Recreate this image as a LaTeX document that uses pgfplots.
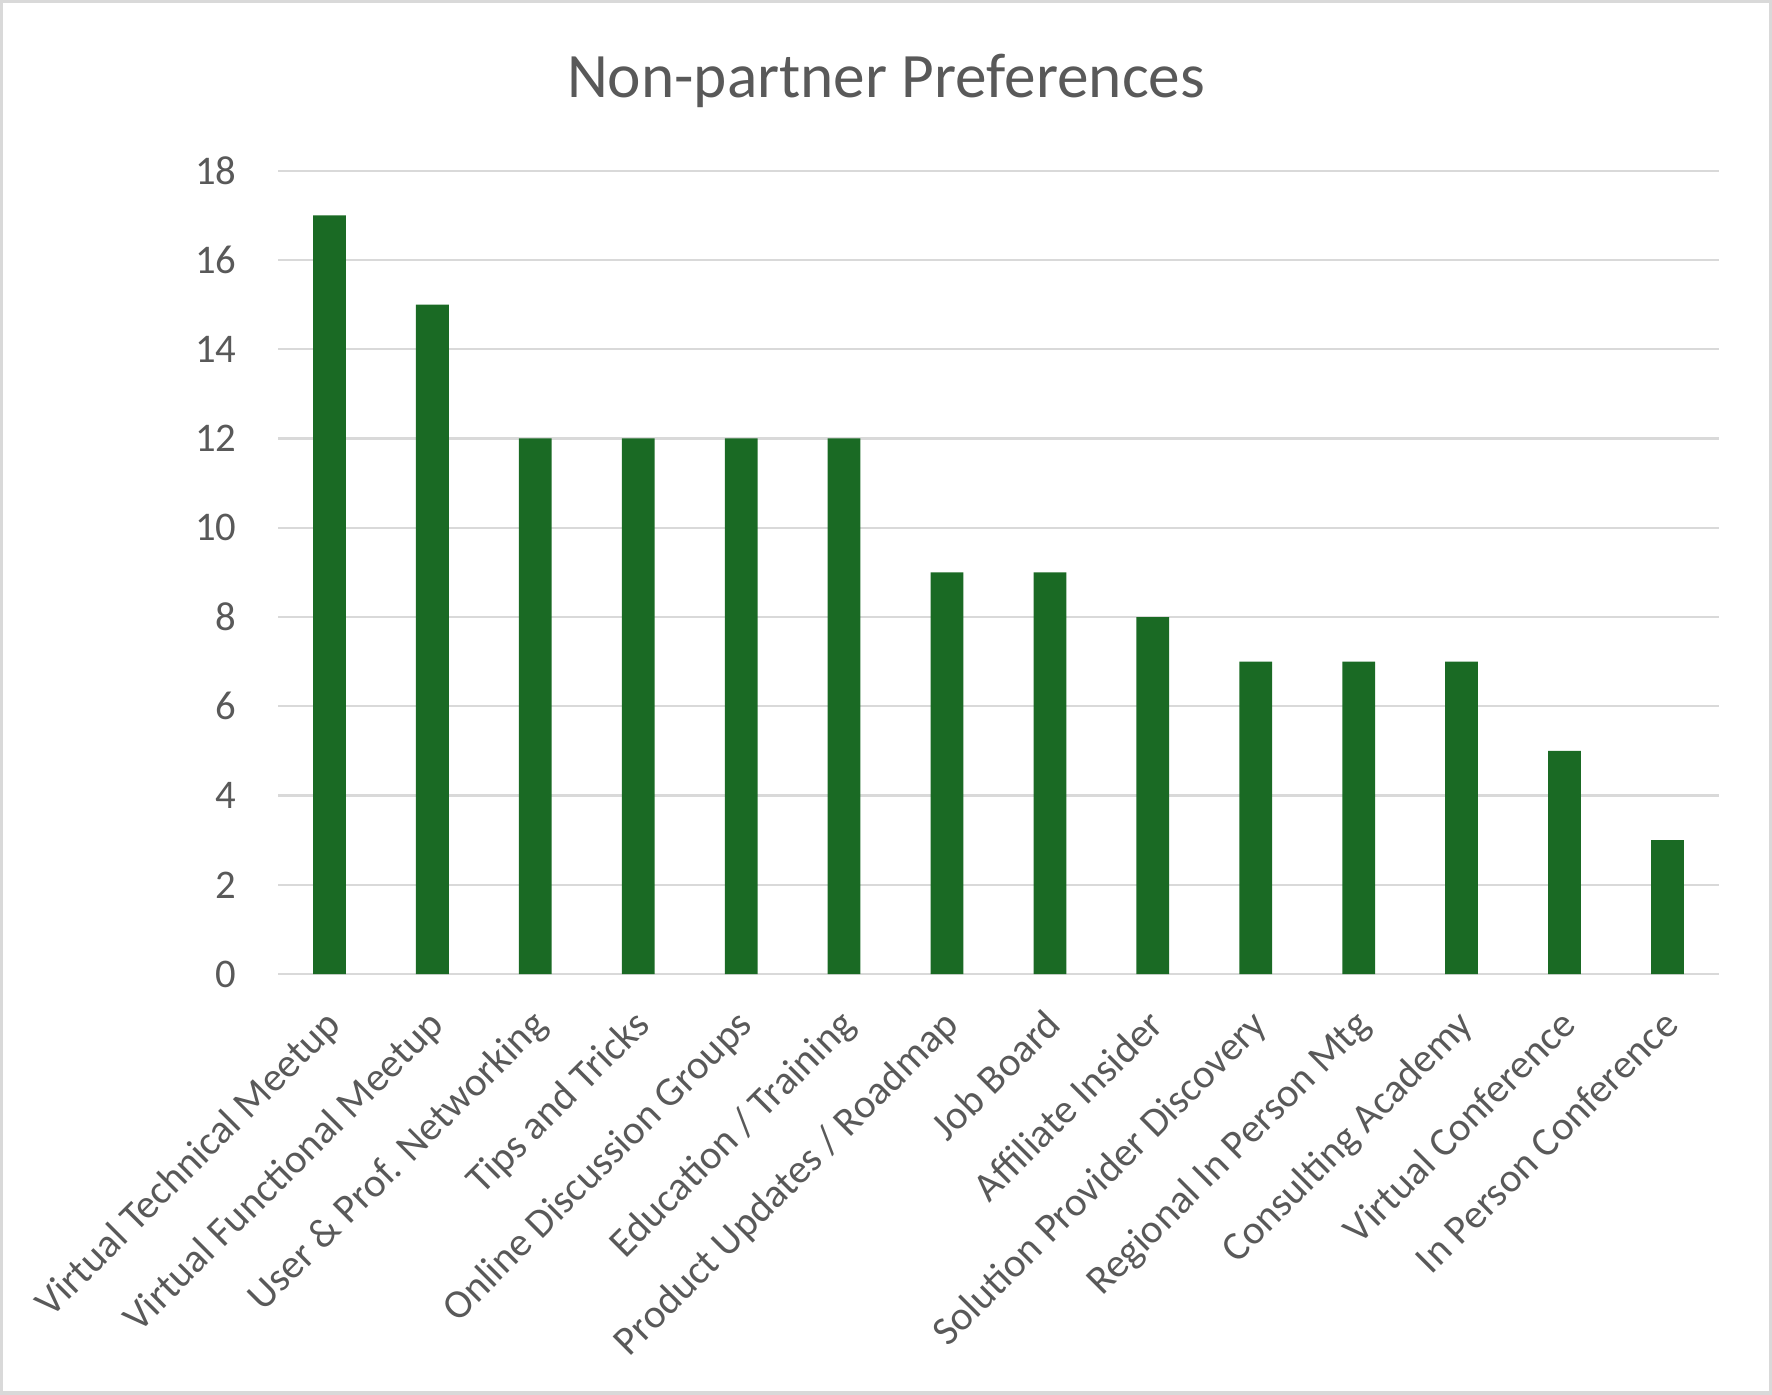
\documentclass[border=0pt]{standalone}
\usepackage{pgfplots}
\pgfplotsset{compat=1.18}
\usepackage{fontspec}
\setmainfont{Carlito}
\definecolor{bargreen}{RGB}{26,106,36}
\definecolor{txt}{RGB}{89,89,89}
\definecolor{gridc}{RGB}{217,217,217}
\begin{document}
\begin{tikzpicture}
\useasboundingbox (0,0) rectangle (392pt,308.5pt);
\draw[gridc, line width=0.7pt] (0.35pt,0.35pt) rectangle (391.65pt,308.15pt);
\node[anchor=base, text=txt, font=\fontsize{14}{16}\selectfont, inner sep=0pt] at (196pt,287pt) {Non-partner Preferences};
\begin{axis}[
 at={(61.5pt,93pt)}, anchor=south west,
 scale only axis, width=318.75pt, height=177.75pt,
 xmin=-0.5, xmax=13.5, ymin=0, ymax=18,
 ytick={0,2,...,18},
 xtick={0,...,13},
 xticklabels={Virtual Technical Meetup, Virtual Functional Meetup, User \& Prof. Networking, Tips and Tricks, Online Discussion Groups, Education / Training, Product Updates / Roadmap, Job Board, Affiliate Insider, Solution Provider Discovery, Regional In Person Mtg, Consulting Academy, Virtual Conference, In Person Conference},
 axis line style={draw=none},
 major tick length=0pt,
 ymajorgrids, grid style={gridc, line width=0.5pt},
 tick label style={text=txt, font=\fontsize{9}{11}\selectfont},
 yticklabel style={anchor=east, inner sep=0pt, xshift=-9pt},
 xticklabel style={xshift=-1.5pt, yshift=-7pt, rotate=45, anchor=north east, inner sep=0pt},
 /pgf/number format/assume math mode=true,
 ybar, bar width=7.25pt,
]
\addplot[fill=bargreen, draw=none] coordinates {(0,17) (1,15) (2,12) (3,12) (4,12) (5,12) (6,9) (7,9) (8,8) (9,7) (10,7) (11,7) (12,5) (13,3)};
\end{axis}
\end{tikzpicture}
\end{document}
